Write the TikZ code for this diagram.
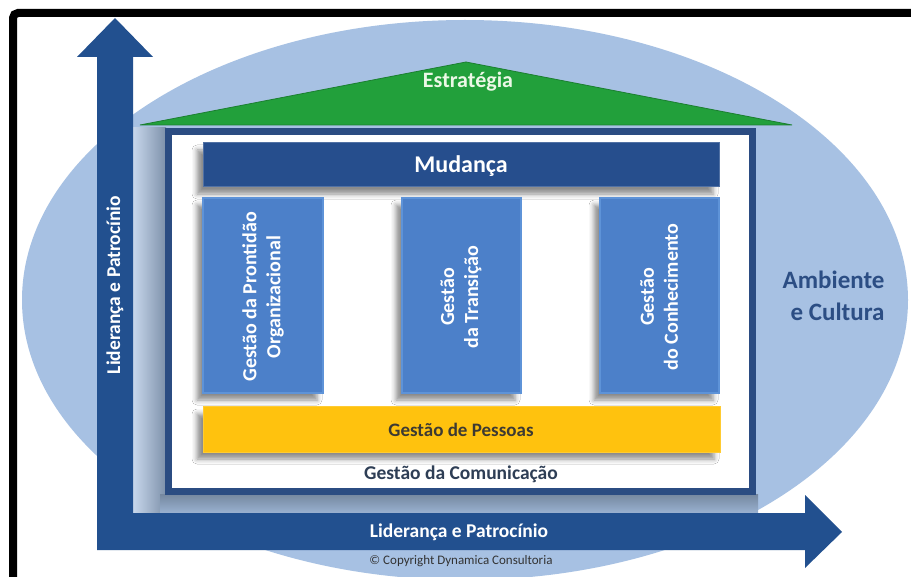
\documentclass[tikz,border=0pt]{standalone}
\usepackage{fontspec}
\setmainfont{Carlito}
\usetikzlibrary{shadows.blur}
\definecolor{navy}{HTML}{22508F}
\definecolor{ellcol}{HTML}{A7C1E3}
\definecolor{roofgreen}{HTML}{22A03B}
\definecolor{roofedge}{HTML}{1B7F30}
\definecolor{housenavy}{HTML}{2B4C82}
\definecolor{mudcol}{HTML}{264E8D}
\definecolor{pillarcol}{HTML}{4C80C9}
\definecolor{pillaredge}{HTML}{5E93D8}
\definecolor{gold}{HTML}{FFC20E}
\definecolor{darktext}{HTML}{3D3A33}
\definecolor{comtext}{HTML}{2E3E55}
\definecolor{ambtext}{HTML}{2C4E84}
\definecolor{esttext}{HTML}{ECF8E6}
\tikzset{
  barshadow/.style={blur shadow={shadow xshift=-6pt, shadow yshift=-7pt, shadow blur radius=5pt, shadow opacity=45}},
  pillarbox/.style={fill=pillarcol, draw=pillaredge, line width=1.5pt, barshadow},
  whitelabel/.style={text=white, font=\bfseries\fontsize{20}{24}\selectfont, align=center},
}
\begin{document}
\begin{tikzpicture}[x=1pt,y=-1pt]
\useasboundingbox (0,0) rectangle (911,577);
\begin{scope}
\clip (0,0) rectangle (911,577);
\fill[white] (0,0) rectangle (911,577);
% environment ellipse
\fill[ellcol] (465,300) ellipse [x radius=443, y radius=280];
% house shadow
\shade[left color=black!2!ellcol!60!white, right color=black!25!ellcol] (133,128) rectangle (166,513);
\shade[top color=black!30!ellcol, bottom color=black!8!ellcol] (160,494) rectangle (758,513);
% L-shaped arrow
\fill[navy] (97,57) -- (77,57) -- (115,18) -- (153,57) -- (133,57) -- (133,513)
  -- (805,513) -- (805,495) -- (842,532) -- (805,568) -- (805,550) -- (97,550) -- cycle;
% roof
\fill[roofgreen, draw=roofedge, line width=0.8pt] (140,125) -- (466,62) -- (792,125) -- cycle;
% house body
\draw[housenavy, line width=7pt, fill=white] (168.5,131.5) rectangle (752.5,491.5);
% bars and pillars
\path[fill=mudcol, draw=mudcol!80!white, line width=1pt, barshadow] (203,143) rectangle (719,187);
\path[pillarbox] (203,198) rectangle (323,393);
\path[pillarbox] (402,198) rectangle (521,393);
\path[pillarbox] (600,198) rectangle (719,393);
\path[fill=gold, draw=gold!85!white, line width=1pt, barshadow] (203,407) rectangle (720,452);
% texts
\node[text=esttext, font=\bfseries\fontsize{22}{26}\selectfont] (estrategia) at (468,82) {Estratégia};
\node[text=white, font=\bfseries\fontsize{24}{28}\selectfont] (mudanca) at (461,166) {Mudança};
\node[whitelabel, rotate=90] (prontidao) at (263,297) {Gestão da Prontidão\\Organizacional};
\node[whitelabel, rotate=90] (transicao) at (461,297) {Gestão\\da Transição};
\node[whitelabel, rotate=90] (conhecimento) at (659,297) {Gestão\\do Conhecimento};
\node[text=darktext, font=\bfseries\fontsize{19}{23}\selectfont] (pessoas) at (461,430) {Gestão de Pessoas};
\node[text=comtext, font=\bfseries\fontsize{19.5}{23}\selectfont] (comunicacao) at (461,474) {Gestão da Comunicação};
\node[text=white, font=\bfseries\fontsize{19.5}{23}\selectfont] (liderancah) at (459,532) {Liderança e Patrocínio};
\node[text=white, font=\bfseries\fontsize{19.5}{23}\selectfont, rotate=90] (liderancav) at (115,285) {Liderança e Patrocínio};
\node[text=black!80, font=\fontsize{13}{15}\selectfont] (copyright) at (461,561) {© Copyright Dynamica Consultoria};
\node[text=ambtext, font=\bfseries\fontsize{25}{32}\selectfont, align=right, anchor=east] (ambiente) at (888,296) {Ambiente\\e Cultura};
% black frame
\draw[black, line width=8pt, rounded corners=5pt] (13,600) -- (13,13) -- (930,13);
\end{scope}
\end{tikzpicture}
\end{document}
